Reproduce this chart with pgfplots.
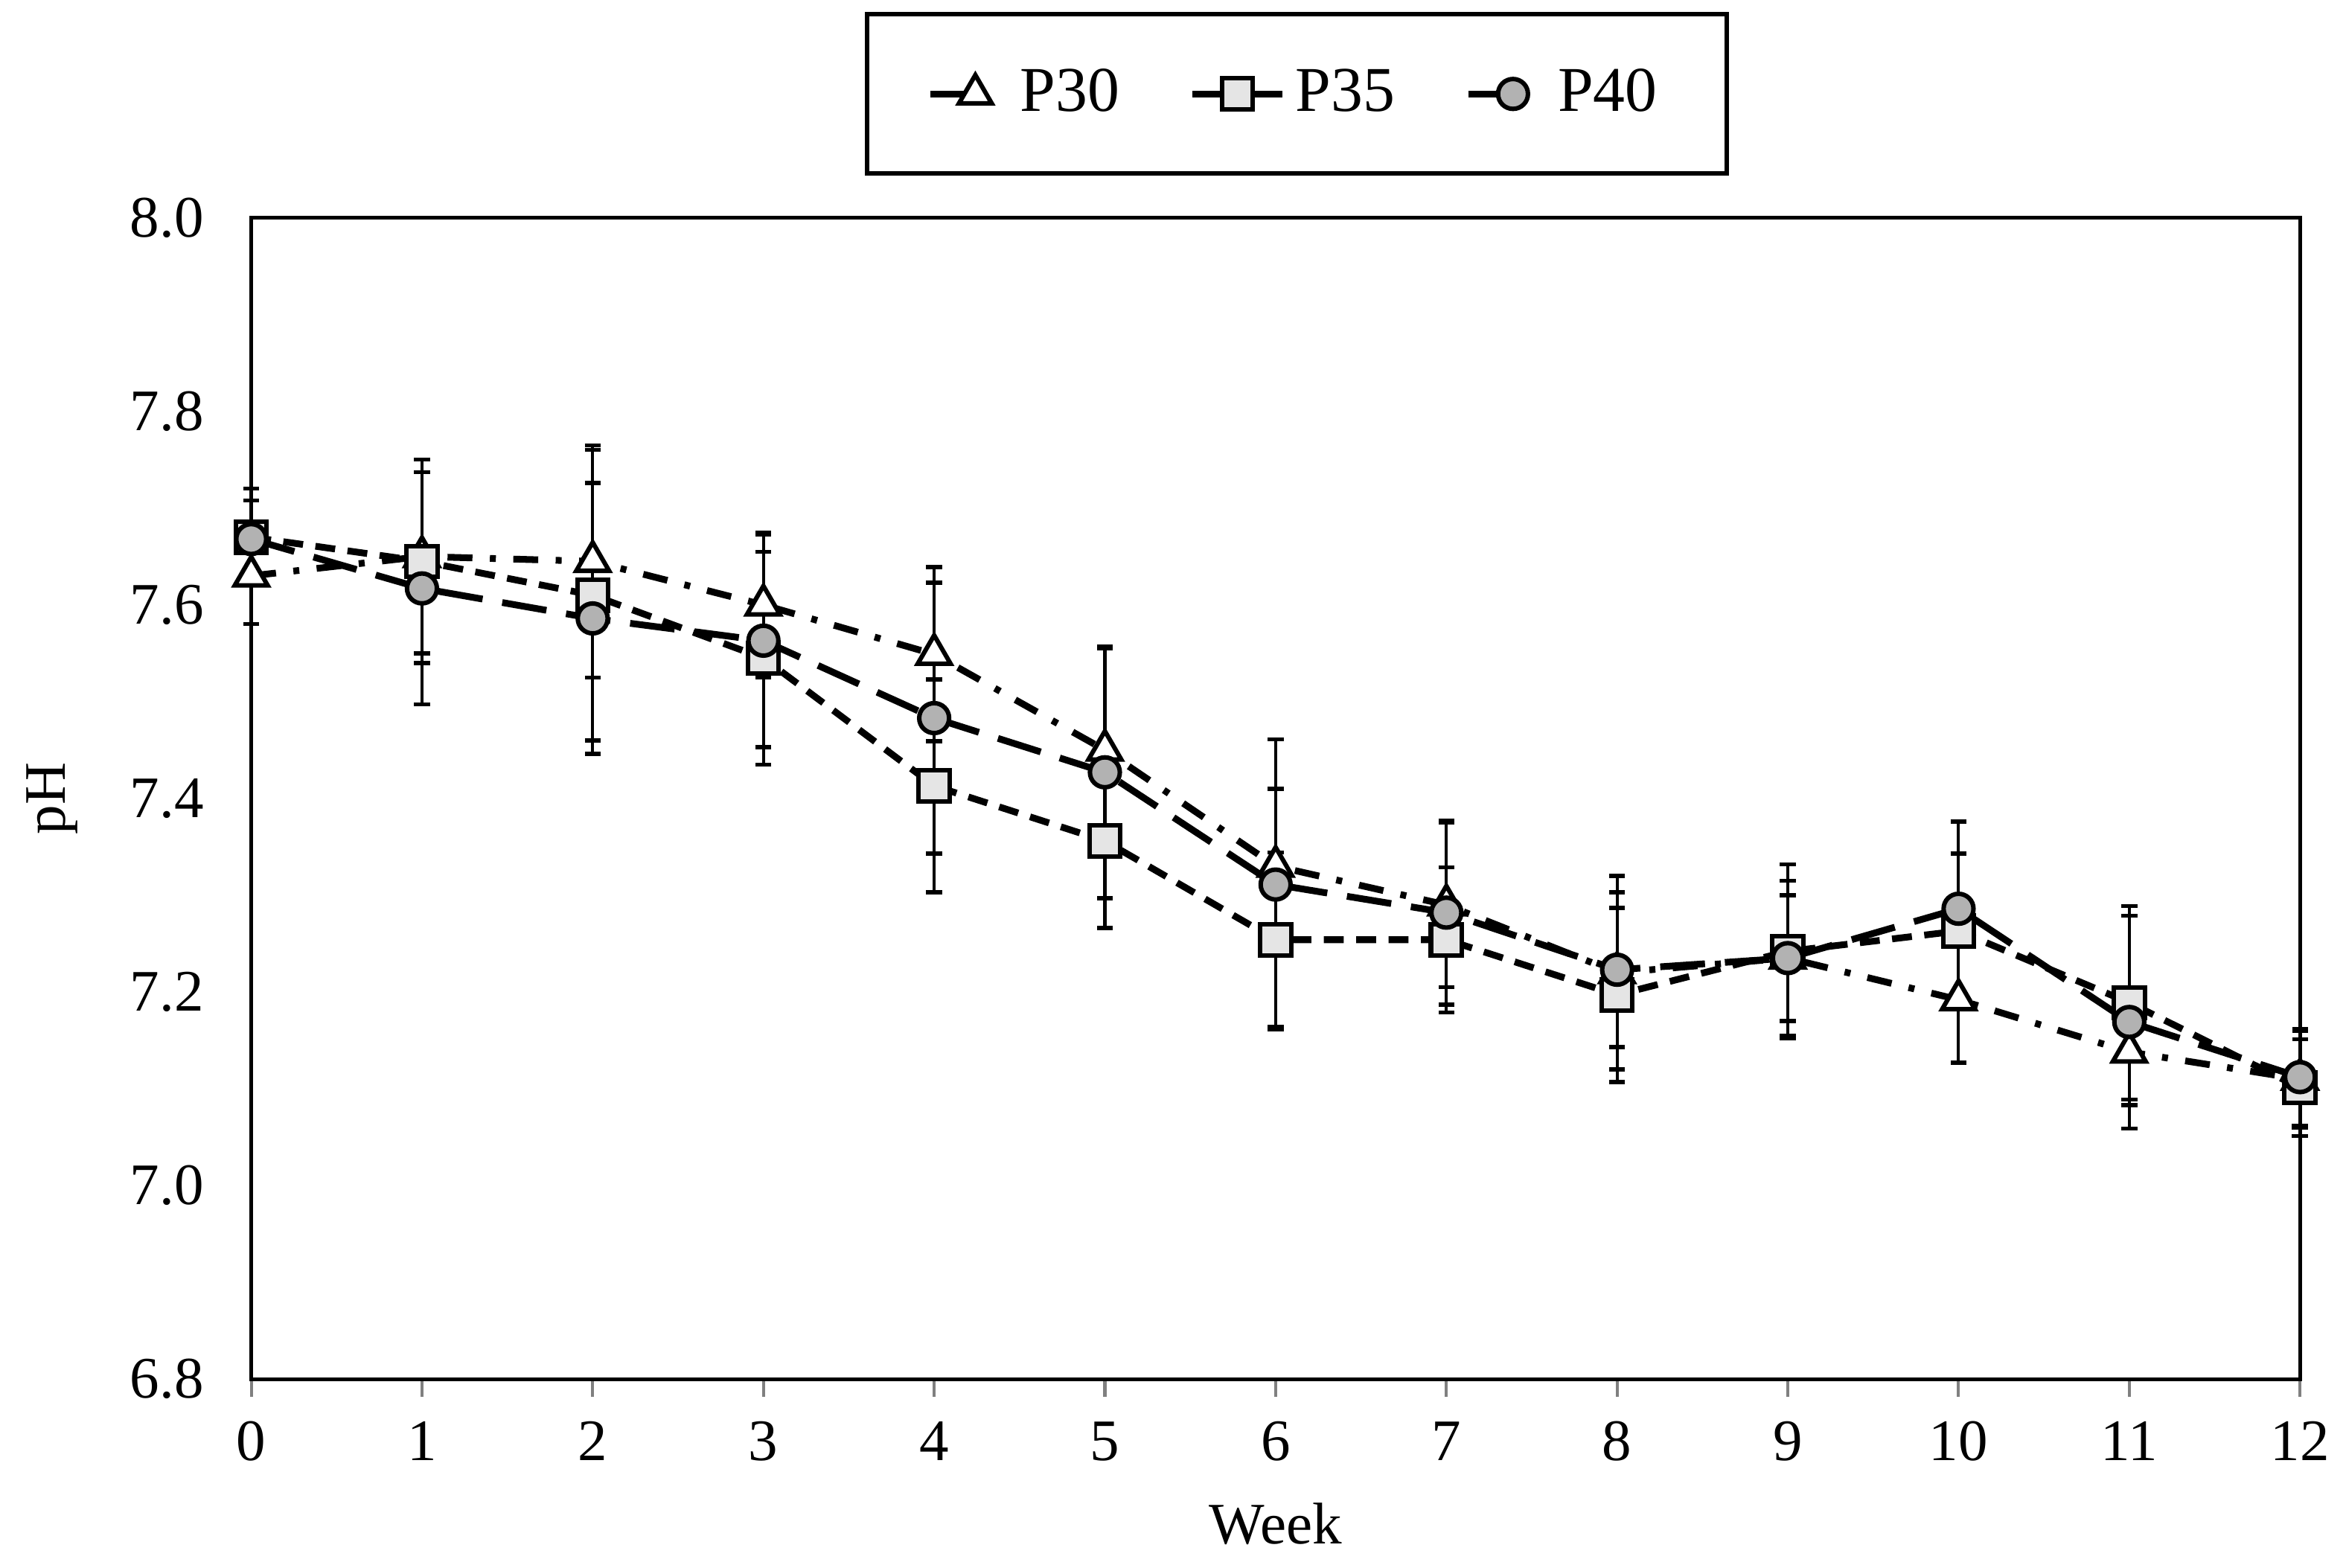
\documentclass[border=0pt]{standalone}
\usepackage{fontspec}
\setmainfont{Liberation Serif}
\usepackage{pgfplots}
\pgfplotsset{compat=1.18}
\pgfplotsset{
  leftleg/.style={legend image code/.code={\draw[##1, solid, mark=none] (0pt,0pt) -- (8pt,0pt); \draw[##1, solid] plot coordinates {(9pt,0pt)}; \path[draw=none, fill=none] (0pt,0pt) rectangle (16pt,0.1pt);}},
  bothleg/.style={legend image code/.code={\draw[##1, solid, mark=none] (0pt,0pt) -- (18pt,0pt); \draw[##1, solid] plot coordinates {(9pt,0pt)};}},
}
\begin{document}
\begin{tikzpicture}
\begin{axis}[
  scale only axis,
  width=411pt, height=233pt,
  xmin=0, xmax=12, ymin=6.8, ymax=8.0,
  xtick={0,1,...,12},
  ytick={6.8,7.0,7.2,7.4,7.6,7.8,8.0},
  yticklabel style={/pgf/number format/fixed, /pgf/number format/fixed zerofill, /pgf/number format/precision=1, xshift=-6pt},
  /pgf/number format/assume math mode=true,
  tick label style={font=\fontsize{11.8}{13}\selectfont},
  label style={font=\fontsize{11.8}{13}\selectfont},
  xtick align=outside,
  major tick length=3.5pt,
  x tick style={line width=0.6pt},
  xtick pos=bottom,
  y tick style={draw=none},
  ytick pos=left,
  axis line style={line width=0.75pt},
  xticklabel style={yshift=-1.5pt},
  xlabel={Week}, ylabel={pH},
  xlabel style={at={(axis description cs:0.5,-0.1245)}, anchor=center},
  ylabel style={at={(axis description cs:-0.0973,0.5)}, anchor=center},
  clip=false,
  legend columns=3,
  legend style={at={(0.5105,1.036)}, anchor=south, draw=black, line width=0.9pt,
    font=\fontsize{12.8}{14}\selectfont, inner xsep=12pt, inner ysep=9pt,
    /tikz/every even column/.append style={column sep=12pt}},
  error bars/error mark options={rotate=90, mark size=1.6pt, line width=0.8pt, black, solid},
  error bars/error bar style={line width=0.6pt, black, solid},
]
\addplot[black, line width=1.35pt, dash pattern=on 5pt off 3.5pt on 1.2pt off 3.5pt,
  mark=triangle*, mark size=3.8pt, mark options={solid, fill=white, line width=0.9pt},
  leftleg,
  error bars/.cd, y dir=both, y explicit]
  table[x=x, y=y, y error=e] {
x y e
0 7.630 0.050
1 7.650 0.100
2 7.645 0.120
3 7.600 0.075
4 7.549 0.090
5 7.450 0.105
6 7.330 0.080
7 7.290 0.085
8 7.220 0.100
9 7.235 0.080
10 7.192 0.065
11 7.138 0.055
12 7.110 0.050
};
\addlegendentry{P30}
\addplot[black, line width=1.35pt, dash pattern=on 4pt off 2.5pt,
  mark=square*, mark size=3.1pt, mark options={solid, fill=gray!20, line width=0.9pt},
  bothleg,
  error bars/.cd, y dir=both, y explicit]
  table[x=x, y=y, y error=e] {
x y e
0 7.670 0.050
1 7.645 0.105
2 7.610 0.150
3 7.545 0.110
4 7.413 0.110
5 7.356 0.090
6 7.254 0.090
7 7.254 0.075
8 7.197 0.090
9 7.242 0.090
10 7.263 0.080
11 7.189 0.100
12 7.101 0.050
};
\addlegendentry{P35}
\addplot[black, line width=1.35pt, dash pattern=on 9pt off 4pt,
  mark=*, mark size=3.0pt, mark options={solid, fill=gray!60, line width=0.9pt},
  leftleg,
  error bars/.cd, y dir=both, y explicit]
  table[x=x, y=y, y error=e] {
x y e
0 7.668 0.040
1 7.617 0.120
2 7.586 0.140
3 7.563 0.110
4 7.483 0.140
5 7.427 0.130
6 7.311 0.150
7 7.282 0.095
8 7.223 0.080
9 7.235 0.065
10 7.286 0.090
11 7.169 0.110
12 7.112 0.050
};
\addlegendentry{P40}
\end{axis}
\path ([xshift=-50.4pt,yshift=-37.9pt]current axis.south west) rectangle ([xshift=8.6pt,yshift=43.7pt]current axis.north east);
\end{tikzpicture}
\end{document}
